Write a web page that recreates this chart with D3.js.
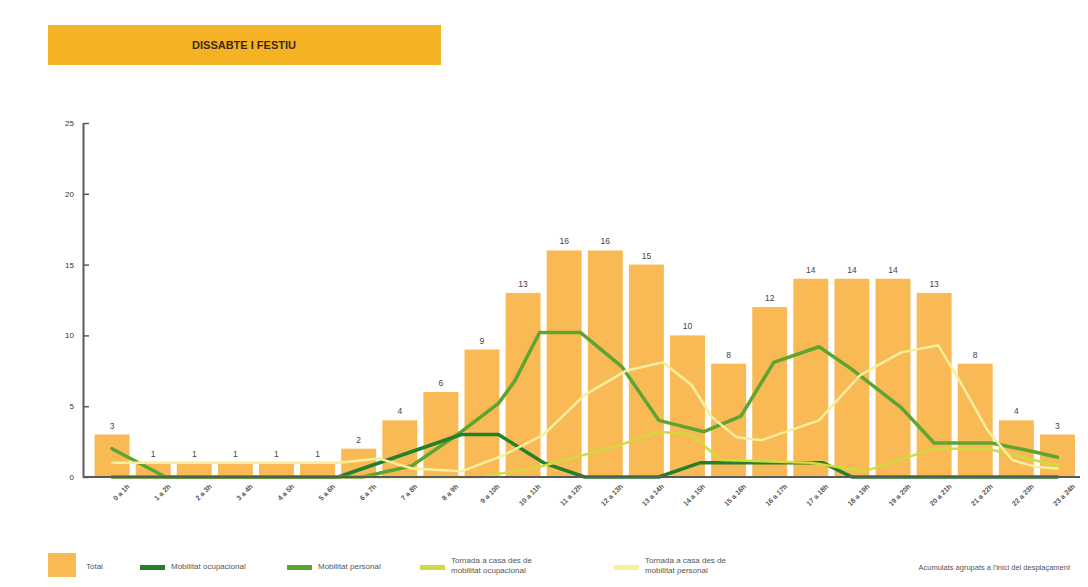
<!DOCTYPE html>
<html>
<head>
<meta charset="utf-8">
<script src="https://cdn.jsdelivr.net/npm/d3@7"></script>
<style>
  html, body { margin: 0; padding: 0; background: #fff; }
  svg { display: block; font-family: "Liberation Sans", Arial, sans-serif; }
</style>
</head>
<body>
<svg id="chart" width="1088" height="587"></svg>
<script>
// Hour bands and trip totals
const hourLabels = ["0 a 1h","1 a 2h","2 a 3h","3 a 4h","4 a 5h","5 a 6h","6 a 7h","7 a 8h",
  "8 a 9h","9 a 10h","10 a 11h","11 a 12h","12 a 13h","13 a 14h","14 a 15h","15 a 16h",
  "16 a 17h","17 a 18h","18 a 19h","19 a 20h","20 a 21h","21 a 22h","22 a 23h","23 a 24h"];
const totals = [3,1,1,1,1,1,2,4,6,9,13,16,16,15,10,8,12,14,14,14,13,8,4,3];
const yTicks = [0,5,10,15,20,25];

// Line series: position in hours of the day and value
const ocupHours  = [0.5, 6.0, 9.0, 9.9, 11.0, 12.0, 13.8, 14.8, 17.8, 18.5, 23.5];
const ocupValues = [0,   0,   3,   3,   1,    0,    0,    1,    1,    0,    0];

const persHours  = [0.5, 1.8, 6.6, 7.8, 9.0, 9.9, 10.3, 10.9, 11.9, 12.9, 13.8, 14.9, 15.8, 16.6, 17.7, 18.5, 19.7, 20.5, 21.9, 22.9, 23.5];
const persValues = [2,   0,   0,   0.8, 3.2, 5.2, 6.8,  10.2, 10.2, 7.8,  4.0,  3.2,  4.3,  8.1,  9.2,  7.6,  4.9,  2.4,  2.4,  1.8,  1.4];

const tornOcupHours  = [0.5, 9.5, 11.0, 12.8, 13.8, 14.6, 15.3, 17.5, 18.8, 20.5, 21.8, 23.5];
const tornOcupValues = [0,   0,   0.8,  2.2,  3.2,  3.0,  1.2,  1.0,  0.4,  2.0,  2.0,  0.8];

const tornPersHours  = [0.5, 6.0, 7.0, 7.8, 9.0, 10.0, 11.0, 12.0, 13.0, 13.9, 14.6, 15.1, 15.7, 16.3, 17.7, 18.7, 19.7, 20.6, 21.1, 21.8, 22.4, 23.0, 23.5];
const tornPersValues = [1,   1,   1.3, 0.6, 0.4, 1.5,  3.0,  5.8,  7.5,  8.1,  6.5,  4.2,  2.8,  2.6,  4.0,  7.2,  8.8,  9.3,  6.9,  3.3,  1.2,  0.7,  0.6];

const seriesNames = ["Total", "Mobilitat ocupacional", "Mobilitat personal",
  "Tornada a casa des de\nmobilitat ocupacional", "Tornada a casa des de\nmobilitat personal"];
const titleText = "DISSABTE I FESTIU";
const noteText = "Acumulats agrupats a l'inici del desplaçament";

const colors = {
  bar: "#f9b955",
  ocup: "#23802f",
  pers: "#5da52e",
  tornOcup: "#cfdc3e",
  tornPers: "#f6ef9c",
  axis: "#5a5a5a",
  text: "#444"
};

const svg = d3.select("#chart");
svg.append("rect").attr("width", 1088).attr("height", 587).attr("fill", "#fff");

// Title banner
svg.append("rect")
  .attr("x", 48).attr("y", 25).attr("width", 393).attr("height", 40)
  .attr("fill", "#f5b224");
svg.append("text")
  .attr("x", 244).attr("y", 49)
  .attr("text-anchor", "middle")
  .attr("font-size", 11).attr("font-weight", "bold")
  .attr("fill", "#3b2a10")
  .text(titleText);

// Scales
const y = d3.scaleLinear().domain([0, 25]).range([477, 123]);
const x = d3.scaleBand().domain(hourLabels).range([91.5, 1078])
  .paddingInner(0.15).paddingOuter(0.075);
const h = d3.scaleLinear().domain([0, 24]).range([91.5, 1078]);

// Bars
svg.append("g").selectAll("rect")
  .data(totals)
  .join("rect")
  .attr("x", (d, i) => x(hourLabels[i]))
  .attr("y", d => y(d))
  .attr("width", x.bandwidth())
  .attr("height", d => y(0) - y(d))
  .attr("fill", colors.bar);

// Value labels above bars
svg.append("g").selectAll("text")
  .data(totals)
  .join("text")
  .attr("x", (d, i) => x(hourLabels[i]) + x.bandwidth() / 2)
  .attr("y", d => y(d) - 6)
  .attr("text-anchor", "middle")
  .attr("font-size", 8.5)
  .attr("fill", colors.text)
  .text(d => d);

// Lines
const line = d3.line()
  .x(d => h(d[0]))
  .y(d => y(d[1]))
  .curve(d3.curveLinear);

const series = [
  { hours: persHours, values: persValues, color: colors.pers, width: 3.5 },
  { hours: ocupHours, values: ocupValues, color: colors.ocup, width: 3.5 },
  { hours: tornOcupHours, values: tornOcupValues, color: colors.tornOcup, width: 2.5 },
  { hours: tornPersHours, values: tornPersValues, color: colors.tornPers, width: 2.5 }
];
series.forEach(s => {
  svg.append("path")
    .datum(s.hours.map((hr, i) => [hr, s.values[i]]))
    .attr("fill", "none")
    .attr("stroke", s.color)
    .attr("stroke-width", s.width)
    .attr("stroke-linejoin", "round")
    .attr("stroke-linecap", "round")
    .attr("d", line);
});

// Y axis
const yAxis = svg.append("g")
  .attr("transform", "translate(83,0)")
  .call(d3.axisLeft(y).tickValues(yTicks).tickSizeInner(-6).tickSizeOuter(0).tickPadding(9));
yAxis.select(".domain").attr("stroke", colors.axis).attr("stroke-width", 2);
yAxis.selectAll(".tick line").attr("stroke", colors.axis).attr("stroke-width", 1.5);
yAxis.selectAll(".tick text").attr("font-size", 8).attr("fill", "#333")
  .attr("font-family", "Liberation Sans, Arial, sans-serif");

// X axis
const xAxis = svg.append("g")
  .attr("transform", `translate(0,${y(0)})`)
  .call(d3.axisBottom(x).tickSize(0).tickSizeOuter(0));
xAxis.select(".domain").attr("d", "M83,0H1080").attr("stroke", colors.axis).attr("stroke-width", 2);
xAxis.selectAll(".tick text")
  .attr("font-size", 7).attr("font-weight", "bold").attr("fill", "#555")
  .attr("font-family", "Liberation Sans, Arial, sans-serif")
  .attr("text-anchor", "end")
  .attr("x", 0).attr("y", 0).attr("dy", 0)
  .attr("transform", "translate(18,10) rotate(-45)");

// Legend
const legend = svg.append("g").attr("font-size", 8).attr("fill", "#555");
legend.append("rect").attr("x", 48).attr("y", 553).attr("width", 28).attr("height", 24).attr("fill", colors.bar);
legend.append("text").attr("x", 86).attr("y", 569).text(seriesNames[0]);

const lineItems = [
  { x: 140, color: colors.ocup, name: seriesNames[1] },
  { x: 287, color: colors.pers, name: seriesNames[2] },
  { x: 420, color: colors.tornOcup, name: seriesNames[3] },
  { x: 614, color: colors.tornPers, name: seriesNames[4] }
];
lineItems.forEach(it => {
  legend.append("rect").attr("x", it.x).attr("y", 565).attr("width", 25).attr("height", 5).attr("fill", it.color);
  const parts = it.name.split("\n");
  const t = legend.append("text").attr("x", it.x + 31).attr("y", parts.length > 1 ? 563 : 569);
  parts.forEach((p, i) => {
    t.append("tspan").attr("x", it.x + 31).attr("dy", i === 0 ? 0 : 10).text(p);
  });
});
legend.append("text").attr("x", 1070).attr("y", 570).attr("text-anchor", "end")
  .attr("font-size", 7.5).text(noteText);
</script>
</body>
</html>
